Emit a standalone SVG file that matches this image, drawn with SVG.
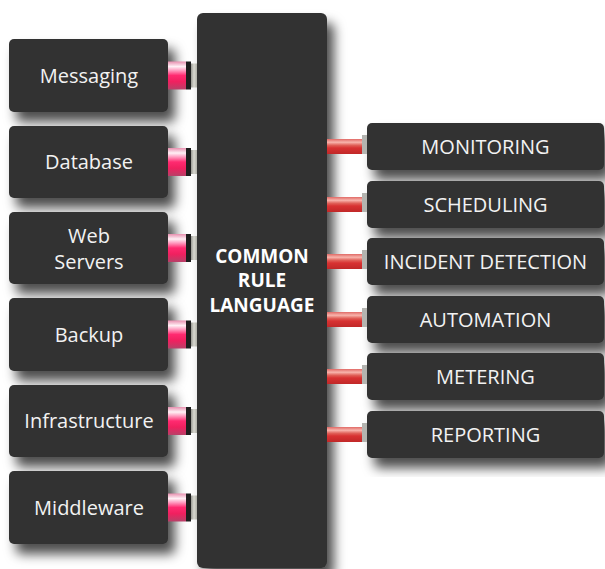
<svg xmlns="http://www.w3.org/2000/svg" width="605" height="569" viewBox="0 0 605 569">
<defs>
  <filter id="sh" x="-20%" y="-20%" width="150%" height="160%">
    <feDropShadow dx="7" dy="10" stdDeviation="6" flood-color="#000" flood-opacity="0.7"/>
  </filter>
  <linearGradient id="pink" x1="0" y1="0" x2="0" y2="1">
    <stop offset="0" stop-color="#e890b0"/>
    <stop offset="0.18" stop-color="#fff0f5"/>
    <stop offset="0.32" stop-color="#ff9cc0"/>
    <stop offset="0.5" stop-color="#ff2a70"/>
    <stop offset="0.72" stop-color="#f0205f"/>
    <stop offset="1" stop-color="#b84068"/>
  </linearGradient>
  <linearGradient id="red" x1="0" y1="0" x2="0" y2="1">
    <stop offset="0" stop-color="#e06a66"/>
    <stop offset="0.22" stop-color="#f8b4ac"/>
    <stop offset="0.42" stop-color="#e06058"/>
    <stop offset="0.6" stop-color="#d83232"/>
    <stop offset="1" stop-color="#c02828"/>
  </linearGradient>
  <linearGradient id="grey" x1="0" y1="0" x2="1" y2="0">
    <stop offset="0" stop-color="#9a9a94"/>
    <stop offset="0.5" stop-color="#d8d8d0"/>
    <stop offset="1" stop-color="#b0b0a8"/>
  </linearGradient>
  <style>
    .box{fill:#333333;filter:url(#sh)}
    .lbl{font-family:"Open Sans","Noto Sans","Liberation Sans",sans-serif;font-size:20px;fill:#f2f2f2;text-anchor:middle}
    .ctr{font-family:"Open Sans","Noto Sans","Liberation Sans",sans-serif;font-size:19px;font-weight:bold;fill:#ffffff;text-anchor:middle}
    .pk{fill:url(#pink)}
    .dk{fill:#1e1e1e}
    .gy{fill:url(#grey)}
    .rd{fill:url(#red)}
    .fl{fill:#b4b4b0}
  </style>
</defs>
<rect width="605" height="569" fill="#ffffff"/>

<g id="left-nodes">
  <g id="messaging"><rect class="box" x="9" y="39" width="159" height="73" rx="5"/><text class="lbl" x="89" y="83">Messaging</text></g>
  <g id="database"><rect class="box" x="9" y="126" width="159" height="72" rx="5"/><text class="lbl" x="89" y="169">Database</text></g>
  <g id="web-servers"><rect class="box" x="9" y="212" width="159" height="72" rx="5"/><text class="lbl" x="89" y="243">Web</text><text class="lbl" x="89" y="269">Servers</text></g>
  <g id="backup"><rect class="box" x="9" y="298" width="159" height="73" rx="5"/><text class="lbl" x="89" y="342">Backup</text></g>
  <g id="infrastructure"><rect class="box" x="9" y="385" width="159" height="72" rx="5"/><text class="lbl" x="89" y="428">Infrastructure</text></g>
  <g id="middleware"><rect class="box" x="9" y="471" width="159" height="73" rx="5"/><text class="lbl" x="89" y="515">Middleware</text></g>
</g>

<g id="right-nodes">
  <g id="monitoring"><rect class="box" x="367" y="123" width="237" height="47" rx="5"/><text class="lbl" x="485.5" y="154">MONITORING</text></g>
  <g id="scheduling"><rect class="box" x="367" y="181" width="237" height="47" rx="5"/><text class="lbl" x="485.5" y="212">SCHEDULING</text></g>
  <g id="incident-detection"><rect class="box" x="367" y="238" width="237" height="47" rx="5"/><text class="lbl" x="485.5" y="269">INCIDENT DETECTION</text></g>
  <g id="automation"><rect class="box" x="367" y="296" width="237" height="47" rx="5"/><text class="lbl" x="485.5" y="327">AUTOMATION</text></g>
  <g id="metering"><rect class="box" x="367" y="353" width="237" height="47" rx="5"/><text class="lbl" x="485.5" y="384">METERING</text></g>
  <g id="reporting"><rect class="box" x="367" y="411" width="237" height="47" rx="5"/><text class="lbl" x="485.5" y="442">REPORTING</text></g>
</g>

<g id="common-rule-language">
  <rect class="box" x="197" y="13" width="130" height="555" rx="6"/>
  <text class="ctr" x="262" y="263">COMMON</text>
  <text class="ctr" x="262" y="287">RULE</text>
  <text class="ctr" x="262" y="312">LANGUAGE</text>
</g>

<g id="connectors">
  <g><rect class="pk" x="168" y="61.5" width="18" height="28"/><rect class="dk" x="186" y="61.5" width="5" height="28"/><rect class="gy" x="191" y="63.5" width="6" height="24"/></g>
  <g><rect class="pk" x="168" y="148" width="18" height="28"/><rect class="dk" x="186" y="148" width="5" height="28"/><rect class="gy" x="191" y="150" width="6" height="24"/></g>
  <g><rect class="pk" x="168" y="234" width="18" height="28"/><rect class="dk" x="186" y="234" width="5" height="28"/><rect class="gy" x="191" y="236" width="6" height="24"/></g>
  <g><rect class="pk" x="168" y="320.5" width="18" height="28"/><rect class="dk" x="186" y="320.5" width="5" height="28"/><rect class="gy" x="191" y="322.5" width="6" height="24"/></g>
  <g><rect class="pk" x="168" y="407" width="18" height="28"/><rect class="dk" x="186" y="407" width="5" height="28"/><rect class="gy" x="191" y="409" width="6" height="24"/></g>
  <g><rect class="pk" x="168" y="493.5" width="18" height="28"/><rect class="dk" x="186" y="493.5" width="5" height="28"/><rect class="gy" x="191" y="495.5" width="6" height="24"/></g>

  <g><rect class="rd" x="327" y="139" width="35" height="15"/><rect class="fl" x="362" y="135" width="5" height="19"/></g>
  <g><rect class="rd" x="327" y="197" width="35" height="15"/><rect class="fl" x="362" y="193" width="5" height="19"/></g>
  <g><rect class="rd" x="327" y="254" width="35" height="15"/><rect class="fl" x="362" y="250" width="5" height="19"/></g>
  <g><rect class="rd" x="327" y="312" width="35" height="15"/><rect class="fl" x="362" y="308" width="5" height="19"/></g>
  <g><rect class="rd" x="327" y="369" width="35" height="15"/><rect class="fl" x="362" y="365" width="5" height="19"/></g>
  <g><rect class="rd" x="327" y="427" width="35" height="15"/><rect class="fl" x="362" y="423" width="5" height="19"/></g>
</g>
</svg>
